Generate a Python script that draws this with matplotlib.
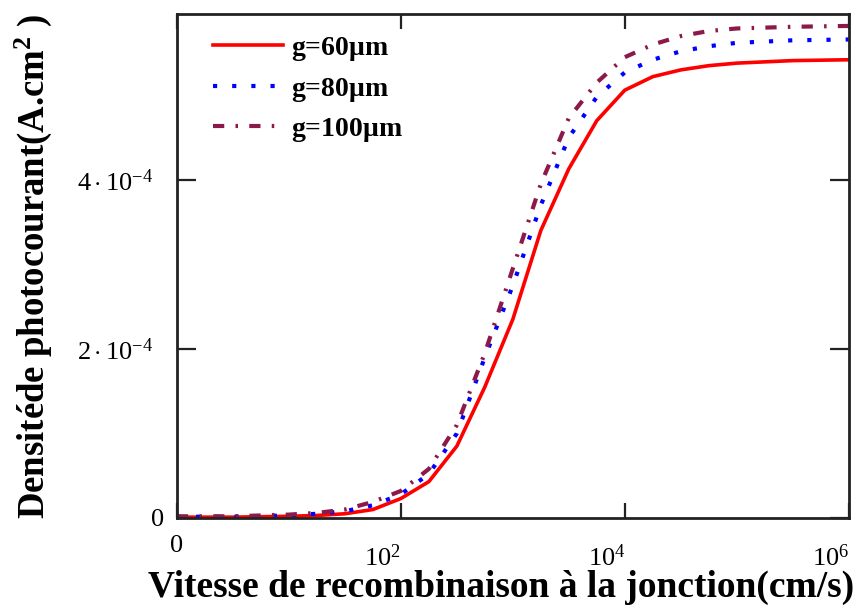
import numpy as np
import matplotlib
matplotlib.use("Agg")
import matplotlib.pyplot as plt
from matplotlib.transforms import ScaledTranslation

plt.rcParams['font.family'] = ['Liberation Serif', 'DejaVu Serif']
plt.rcParams['mathtext.fontset'] = 'custom'
plt.rcParams['mathtext.rm'] = 'Liberation Serif'
plt.rcParams['mathtext.it'] = 'Liberation Serif:italic'
plt.rcParams['mathtext.bf'] = 'Liberation Serif:bold'

# junction recombination velocity (cm/s), quarter-decade steps
log_sf = [0, 0.5, 1, 1.25, 1.5, 1.75, 2, 2.25, 2.5, 2.75, 3, 3.25, 3.5,
          3.75, 4, 4.25, 4.5, 4.75, 5, 5.5, 6]
sf = [10.0 ** v for v in log_sf]

# photocurrent density (x1e-4 A/cm2) for each grain size
j_60 = [0.01, 0.01, 0.02, 0.03, 0.05, 0.10, 0.23, 0.43, 0.85, 1.55, 2.35,
        3.40, 4.13, 4.70, 5.06, 5.22, 5.30, 5.35, 5.38, 5.41, 5.42]
j_80 = [0.015, 0.015, 0.03, 0.05, 0.08, 0.15, 0.28, 0.52, 1.00, 1.90, 2.75,
        3.70, 4.50, 4.98, 5.27, 5.42, 5.52, 5.58, 5.62, 5.65, 5.66]
j_100 = [0.02, 0.02, 0.04, 0.06, 0.10, 0.19, 0.32, 0.58, 1.10, 1.95, 2.95,
         3.95, 4.73, 5.15, 5.45, 5.60, 5.70, 5.76, 5.79, 5.81, 5.82]

labels = [r"g=60$\mathbf{\mu}$m", r"g=80$\mathbf{\mu}$m", r"g=100$\mathbf{\mu}$m"]

x_ticks = [1, 1e2, 1e4, 1e6]
x_ticklabels = ["0", r"$10^{2}$", r"$10^{4}$", r"$10^{6}$"]
y_ticks = [0, 2e-4, 4e-4]
y_ticklabels = ["0", r"$2\cdot10^{-4}$", r"$4\cdot10^{-4}$"]

fig = plt.figure(figsize=(8.59, 6.13), dpi=100)
ax = fig.add_axes([0.206, 0.155, 0.782, 0.822])

ax.plot(sf, np.array(j_60) * 1e-4, color='#ff0000', lw=2.6, label=labels[0])
ax.plot(sf, np.array(j_80) * 1e-4, color='#0000ff', lw=3.0,
        linestyle=(0, (1.0, 3.6)), label=labels[1])
ax.plot(sf, np.array(j_100) * 1e-4, color='#8b1a4a', lw=3.0,
        linestyle=(0, (2.7, 2.7, 0.6, 2.7)), label=labels[2])

ax.set_xscale('log')
ax.set_xlim(1, 1e6)
ax.set_ylim(0, 5.96e-4)
ax.set_xticks(x_ticks)
ax.set_xticklabels(x_ticklabels)
ax.minorticks_off()
ax.set_yticks(y_ticks)
ax.set_yticklabels(y_ticklabels)

ax.tick_params(axis='both', direction='in', top=True, right=True,
               color='#222222', width=1.6)
ax.tick_params(axis='x', length=11, pad=12, labelsize=19)
ax.tick_params(axis='y', length=14, pad=9, labelsize=19)

# the power-of-ten labels sit lower and a bit left of their tick
for lab in ax.get_xticklabels()[1:]:
    lab.set_transform(lab.get_transform() +
                      ScaledTranslation(-13 / 72, -7 / 72, fig.dpi_scale_trans))
for lab in ax.get_yticklabels()[1:]:
    lab.set_transform(lab.get_transform() +
                      ScaledTranslation(-8 / 72, 0, fig.dpi_scale_trans))

for sp in ax.spines.values():
    sp.set_linewidth(2.0)
    sp.set_color('#222222')

ax.set_xlabel("Vitesse de recombinaison à la jonction(cm/s)",
              fontsize=27, fontweight='bold')
ax.xaxis.set_label_coords(0.482, -0.103)
ax.set_ylabel(r"Densitéde photocourant(A.cm$^{\mathbf{2}}$ )",
              fontsize=26.5, fontweight='bold')
ax.yaxis.set_label_coords(-0.183, 0.5)

leg = ax.legend(loc='upper left', bbox_to_anchor=(0.017, 1.008), frameon=False,
                prop={'weight': 'bold', 'size': 20}, handlelength=2.5,
                handletextpad=0.3, labelspacing=0.45)

fig.savefig("out.png", dpi=100)
